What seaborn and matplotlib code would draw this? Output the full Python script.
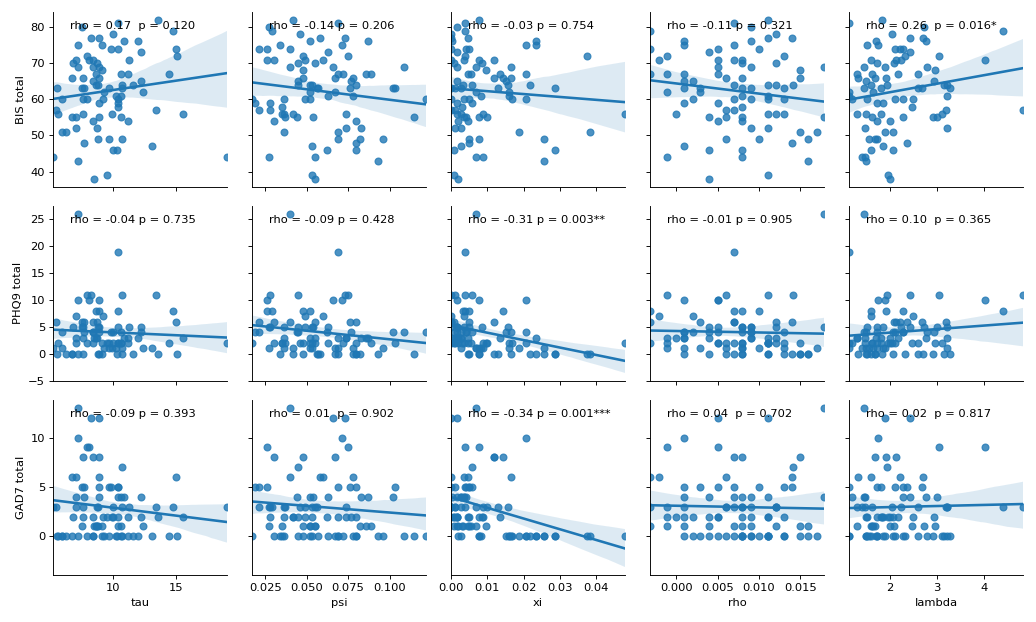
import numpy as np
import pandas as pd
import matplotlib
matplotlib.use("Agg")
import matplotlib.pyplot as plt
import seaborn as sns

x_vars = ["tau", "psi", "xi", "rho", "lambda"]
y_vars = ["BIS total", "PHQ9 total", "GAD7 total"]

bis_total = [82, 81, 80, 79, 78, 77, 77, 76, 76, 75,
             75, 74, 74, 74, 73, 72, 72, 71, 71, 71,
             71, 70, 70, 69, 69, 69, 68, 67, 67, 67,
             67, 66, 66, 66, 65, 65, 64, 64, 64, 64,
             63, 63, 63, 63, 63, 62, 62, 61, 61, 60,
             60, 60, 60, 60, 59, 59, 58, 57, 57, 56,
             56, 56, 56, 55, 55, 55, 55, 54, 54, 52,
             52, 51, 51, 49, 49, 49, 48, 47, 46, 46,
             44, 44, 43, 39, 38]

tau = [13.6, 10.4, 7.5, 14.8, 10.0, 8.2, 8.9, 12.0, 10.9, 7.2,
       9.1, 9.8, 10.4, 15.0, 12.2, 15.1, 7.9, 8.1, 8.4, 11.3,
       7.0, 6.8, 8.7, 7.2, 8.9, 8.4, 9.1, 8.6, 10.6, 11.2,
       14.5, 6.7, 7.6, 8.9, 8.4, 12.2, 8.6, 10.7, 11.6, 8.8,
       5.5, 7.5, 7.7, 9.7, 10.7, 9.3, 12.4, 10.2, 10.6, 9.2,
       10.4, 7.6, 7.9, 5.9, 8.9, 10.4, 10.4, 5.4, 13.4, 5.6,
       15.6, 7.6, 9.9, 10.6, 8.9, 6.7, 7.0, 11.2, 8.4, 8.7,
       7.0, 5.9, 6.2, 8.8, 9.7, 10.7, 7.7, 13.1, 10.0, 10.3,
       5.2, 19.1, 7.2, 9.5, 8.5]

psi = [0.042, 0.069, 0.027, 0.029, 0.046, 0.073, 0.058, 0.052, 0.087, 0.071,
       0.034, 0.021, 0.026, 0.040, 0.063, 0.048, 0.075, 0.026, 0.030, 0.049,
       0.060, 0.045, 0.055, 0.040, 0.066, 0.109, 0.048, 0.086, 0.089, 0.069,
       0.072, 0.078, 0.067, 0.048, 0.045, 0.077, 0.052, 0.045, 0.080, 0.053,
       0.057, 0.076, 0.102, 0.103, 0.056, 0.067, 0.052, 0.078, 0.063, 0.049,
       0.052, 0.036, 0.017, 0.122, 0.019, 0.028, 0.035, 0.021, 0.028, 0.035,
       0.074, 0.036, 0.042, 0.044, 0.054, 0.115, 0.037, 0.030, 0.080, 0.074,
       0.083, 0.036, 0.069, 0.082, 0.096, 0.069, 0.080, 0.053, 0.062, 0.080,
       0.027, 0.055, 0.093, 0.053, 0.055]

xi = [0.0077, 0.0037, 0.0017, 0.0037, 0.0000, 0.0000, 0.0046, 0.0235, 0.0003, 0.0207,
      0.0235, 0.0040, 0.0049, 0.0000, 0.0015, 0.0374, 0.0037, 0.0077, 0.0117, 0.0000,
      0.0035, 0.0086, 0.0007, 0.0068, 0.0017, 0.0165, 0.0097, 0.0046, 0.0056, 0.0136,
      0.0205, 0.0165, 0.0119, 0.0142, 0.0151, 0.0017, 0.0033, 0.0058, 0.0216, 0.0156,
      0.0286, 0.0000, 0.0026, 0.0010, 0.0128, 0.0160, 0.0070, 0.0082, 0.0160, 0.0000,
      0.0035, 0.0049, 0.0168, 0.0205, 0.0058, 0.0017, 0.0030, 0.0000, 0.0010, 0.0479,
      0.0017, 0.0026, 0.0088, 0.0040, 0.0035, 0.0077, 0.0098, 0.0020, 0.0046, 0.0012,
      0.0028, 0.0186, 0.0383, 0.0049, 0.0077, 0.0256, 0.0049, 0.0028, 0.0007, 0.0286,
      0.0068, 0.0089, 0.0256, 0.0007, 0.0019]

rho = [0.0111, 0.0070, 0.0090, -0.0032, 0.0121, 0.0111, 0.0140, 0.0090, 0.0009, 0.0009,
       0.0070, 0.0050, 0.0100, -0.0032, 0.0039, 0.0130, -0.0011, 0.0050, 0.0070, 0.0080,
       -0.0021, 0.0080, 0.0121, 0.0179, 0.0050, 0.0090, 0.0150, 0.0009, -0.0032, -0.0011,
       0.0050, 0.0060, 0.0150, 0.0080, 0.0020, 0.0009, 0.0070, 0.0141, 0.0111, 0.0121,
       0.0080, 0.0029, 0.0090, 0.0130, 0.0009, 0.0029, -0.0011, 0.0080, 0.0111, 0.0020,
       0.0070, 0.0090, 0.0111, 0.0130, 0.0009, 0.0050, 0.0080, 0.0070, 0.0060, 0.0111,
       -0.0001, 0.0121, 0.0130, 0.0080, 0.0179, 0.0039, 0.0060, 0.0080, 0.0050, 0.0090,
       0.0111, 0.0170, 0.0150, 0.0160, 0.0060, 0.0100, 0.0140, 0.0009, 0.0039, 0.0080,
       0.0080, -0.0011, 0.0160, 0.0111, 0.0039]

lam = [1.83, 1.13, 2.72, 4.42, 2.05, 2.43, 2.70, 1.70, 2.76, 1.75,
       1.51, 2.11, 2.29, 2.22, 2.43, 2.32, 3.05, 4.02, 2.14, 2.23,
       1.60, 1.72, 2.09, 1.44, 1.89, 2.79, 2.97, 1.29, 1.62, 2.17,
       2.59, 1.31, 1.68, 1.91, 1.49, 2.94, 1.59, 1.94, 3.16, 3.21,
       3.29, 2.69, 1.44, 1.82, 2.61, 1.13, 1.64, 3.21, 1.13, 2.49,
       1.19, 1.51, 2.11, 2.29, 1.72, 1.86, 2.48, 3.19, 4.84, 3.12,
       1.80, 1.29, 1.49, 2.29, 3.01, 2.92, 1.62, 1.72, 2.00, 3.21,
       1.46, 1.89, 2.07, 1.68, 1.55, 1.73, 2.36, 1.86, 2.07, 1.60,
       1.41, 1.46, 1.49, 1.96, 2.01]

phq9_total = [0, 19, 5, 8, 2, 11, 0, 3, 3, 10,
              0, 4, 8, 6, 5, 0, 11, 10, 6, 5,
              7, 5, 6, 26, 10, 4, 2, 3, 2, 3,
              2, 0, 0, 8, 4, 4, 8, 11, 0, 5,
              0, 6, 4, 2, 0, 1, 1, 1, 2, 7,
              2, 5, 2, 4, 4, 5, 2, 6, 11, 2,
              3, 3, 1, 4, 5, 0, 2, 2, 2, 3,
              3, 1, 0, 0, 1, 1, 6, 1, 4, 0,
              1, 2, 0, 2, 3]

gad7_total = [2, 5, 1, 3, 3, 12, 6, 0, 4, 10,
              0, 5, 5, 6, 4, 0, 9, 9, 8, 3,
              6, 2, 1, 13, 12, 0, 1, 1, 1, 2,
              0, 6, 8, 8, 0, 2, 1, 7, 0, 3,
              0, 5, 4, 5, 3, 0, 1, 0, 0, 2,
              4, 2, 0, 0, 5, 2, 1, 3, 3, 0,
              2, 3, 2, 4, 4, 0, 3, 0, 2, 3,
              4, 0, 0, 1, 0, 0, 5, 0, 2, 0,
              3, 3, 0, 2, 1]

annotations = [
    ["rho = 0.17  p = 0.120", "rho = -0.14 p = 0.206", "rho = -0.03 p = 0.754",
     "rho = -0.11 p = 0.321", "rho = 0.26  p = 0.016*"],
    ["rho = -0.04 p = 0.735", "rho = -0.09 p = 0.428", "rho = -0.31 p = 0.003**",
     "rho = -0.01 p = 0.905", "rho = 0.10  p = 0.365"],
    ["rho = -0.09 p = 0.393", "rho = 0.01  p = 0.902", "rho = -0.34 p = 0.001***",
     "rho = 0.04  p = 0.702", "rho = 0.02  p = 0.817"],
]

df = pd.DataFrame({
    "tau": tau, "psi": psi, "xi": xi, "rho": rho, "lambda": lam,
    "BIS total": bis_total, "PHQ9 total": phq9_total, "GAD7 total": gad7_total,
})

DPI = 82.5
g = sns.pairplot(df, x_vars=x_vars, y_vars=y_vars, kind="reg",
                 height=2.5, aspect=1.0, plot_kws={"seed": 0})

for j, var in enumerate(x_vars):
    for i in range(len(y_vars)):
        g.axes[i, j].set_xlim(df[var].min(), df[var].max())

for i, row in enumerate(annotations):
    for j, txt in enumerate(row):
        g.axes[i, j].annotate(txt, xy=(0.1, 0.9), xycoords="axes fraction", fontsize=10)

g.figure.set_size_inches(1036 / DPI, 622 / DPI)
g.figure.subplots_adjust(left=0.0512, right=0.9875, bottom=0.0756, top=0.981,
                         wspace=0.144, hspace=0.109)
g.figure.savefig("out.png", dpi=DPI)
